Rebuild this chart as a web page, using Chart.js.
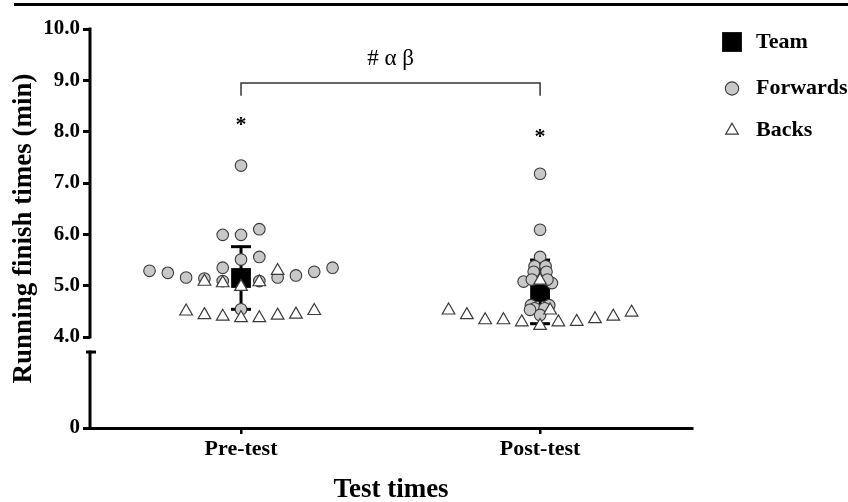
<!DOCTYPE html>
<html>
<head>
<meta charset="utf-8">
<script src="https://cdn.jsdelivr.net/npm/chart.js@4.4.1/dist/chart.umd.min.js"></script>
<style>
  html, body { margin: 0; padding: 0; background: #fff; }
  #wrap { position: relative; width: 848px; height: 502px; }
  #rule { position: absolute; left: 14px; top: 3px; width: 834px; height: 3px; background: #000; }
</style>
</head>
<body>
<div id="wrap">
  <div id="rule"></div>
  <canvas id="chart"></canvas>
</div>
<script>
'use strict';

const GROUPS = ['Pre-test', 'Post-test'];
const Y_TICKS = [0, 4, 5, 6, 7, 8, 9, 10];

// slot = column inside the dot cloud of a group, 0 is the centre
const PRE_FWD_SLOT = [-5, -4, -3, -2, -1, -1, -1, 0, 0, 0, 0, 1, 1, 1, 2, 3, 4, 5];
const PRE_FWD = [5.29, 5.25, 5.16, 5.14, 5.99, 5.35, 5.09, 7.34, 5.99, 5.51, 4.54, 6.10, 5.56, 5.09, 5.16, 5.20, 5.27, 5.35];
const POST_FWD_SLOT = [0, 0, 0, -0.3, 0.3, -0.35, 0.35, -0.9, 0.65, -0.45, 0.4, -0.5, 0.5, 0, -0.3, 0.25, 0, -0.55];
const POST_FWD = [7.18, 6.09, 5.56, 5.38, 5.38, 5.27, 5.27, 5.08, 5.05, 5.12, 5.12, 4.62, 4.62, 4.50, 4.56, 4.56, 4.43, 4.53];

const PRE_BACK_SLOT = [-2, -1, 0, 1, 2, -3, -2, -1, 0, 1, 2, 3, 4];
const PRE_BACK = [5.08, 5.05, 4.98, 5.07, 5.29, 4.50, 4.43, 4.40, 4.37, 4.37, 4.42, 4.44, 4.51];
const POST_BACK_SLOT = [0, 0.55, -5, -4, -3, -2, -1, 0, 1, 2, 3, 4, 5];
const POST_BACK = [5.10, 4.52, 4.52, 4.43, 4.33, 4.33, 4.29, 4.22, 4.29, 4.30, 4.35, 4.40, 4.48];

const TEAM_MEAN = [5.15, 4.88];
const TEAM_SD = [0.61, 0.62];

const SIG_Y = [8.12, 7.89];            // where the * sits above each group
const BRACKET_Y = [8.95, 8.70];         // bar, foot of the legs
const BRACKET_LABEL = '# α β';
const BRACKET_LABEL_Y = 9.42;

const BREAK_AT = 4;      // the y axis is cut below this value
const LOW_SHARE = 0.228; // part of the axis height given to 0..BREAK_AT
const LOW_TOP = 3.34;    // end of the short stub above 0
const SLOT = 0.0612;     // width of one dot column in x units

const SERIF = "'Liberation Serif', 'Times New Roman', serif";
Chart.defaults.font.family = SERIF;
Chart.defaults.color = '#000';

class BrokenScale extends Chart.LinearScale {
  static id = 'broken';
  static defaults = Chart.LinearScale.defaults;
  toDec(v) {
    if (v >= BREAK_AT) return LOW_SHARE + (v - BREAK_AT) / (this.max - BREAK_AT) * (1 - LOW_SHARE);
    return (v - this.min) / (BREAK_AT - this.min) * LOW_SHARE;
  }
  getPixelForValue(v) {
    if (v === null || isNaN(v)) return NaN;
    return this.getPixelForDecimal(this.toDec(v));
  }
  getValueForPixel(p) {
    const d = this.getDecimalForPixel(p);
    if (d >= LOW_SHARE) return BREAK_AT + (d - LOW_SHARE) / (1 - LOW_SHARE) * (this.max - BREAK_AT);
    return this.min + d / LOW_SHARE * (BREAK_AT - this.min);
  }
}
Chart.register(BrokenScale);

function cloud(group, slots, vals) {
  return vals.map((v, i) => ({ x: group + 1 + slots[i] * SLOT, y: v }));
}

function teamPoints() {
  return TEAM_MEAN.map((m, i) => ({ x: i + 1, y: m }));
}

function sdPoints() {
  let pts = [];
  TEAM_MEAN.forEach((m, i) => {
    if (i) pts.push({ x: i + 0.5, y: null });
    pts.push({ x: i + 1, y: m - TEAM_SD[i] }, { x: i + 1, y: m + TEAM_SD[i] });
  });
  return pts;
}

const decor = {
  id: 'decor',
  afterDatasetsDraw(chart) {
    const { ctx, chartArea: a, scales: { x, y } } = chart;
    const line = (x1, y1, x2, y2) => { ctx.beginPath(); ctx.moveTo(x1, y1); ctx.lineTo(x2, y2); ctx.stroke(); };
    ctx.save();

    // broken y axis
    ctx.strokeStyle = '#000';
    ctx.lineWidth = 3;
    ctx.lineCap = 'square';
    line(a.left, y.getPixelForValue(y.max), a.left, y.getPixelForValue(BREAK_AT));
    line(a.left, y.getPixelForValue(0), a.left, y.getPixelForValue(LOW_TOP));
    ctx.lineCap = 'butt';
    line(a.left - 4, y.getPixelForValue(LOW_TOP), a.left + 6, y.getPixelForValue(LOW_TOP));

    // bracket between the groups
    const xl = x.getPixelForValue(1), xr = x.getPixelForValue(2);
    const yb = y.getPixelForValue(BRACKET_Y[0]), yf = y.getPixelForValue(BRACKET_Y[1]);
    ctx.strokeStyle = '#333';
    ctx.lineWidth = 1.5;
    ctx.beginPath();
    ctx.moveTo(xl, yf); ctx.lineTo(xl, yb); ctx.lineTo(xr, yb); ctx.lineTo(xr, yf);
    ctx.stroke();

    ctx.fillStyle = '#000';
    ctx.textAlign = 'center';
    ctx.textBaseline = 'middle';
    ctx.font = '23px ' + SERIF;
    ctx.fillText(BRACKET_LABEL, (xl + xr) / 2, y.getPixelForValue(BRACKET_LABEL_Y));

    ctx.font = 'bold 22px ' + SERIF;
    SIG_Y.forEach((v, i) => ctx.fillText('*', x.getPixelForValue(i + 1), y.getPixelForValue(v)));

    // legend
    const rows = [42, 88.5, 130.5];
    ctx.textAlign = 'left';
    ctx.font = 'bold 22px ' + SERIF;
    chart.data.datasets.slice(0, 3).forEach((ds, i) => {
      ctx.fillStyle = ds.pointBackgroundColor;
      ctx.strokeStyle = ds.pointBorderColor;
      ctx.lineWidth = ds.pointBorderWidth;
      Chart.helpers.drawPoint(ctx, {
        pointStyle: ds.pointStyle,
        radius: ds.pointRadius * (i === 1 ? 1.15 : 1),
        rotation: 0,
        borderWidth: ds.pointBorderWidth
      }, a.right + 40, rows[i]);
      ctx.fillStyle = '#000';
      ctx.fillText(ds.label, a.right + 64, rows[i]);
    });
    ctx.restore();
  }
};

new Chart(document.getElementById('chart'), {
  type: 'scatter',
  data: {
    datasets: [{
      label: 'Team',
      data: teamPoints(),
      pointStyle: 'rect',
      pointRadius: 14,
      pointBackgroundColor: '#000',
      pointBorderColor: '#000',
      pointBorderWidth: 0,
      order: 3
    }, {
      label: 'Forwards',
      data: cloud(0, PRE_FWD_SLOT, PRE_FWD).concat(cloud(1, POST_FWD_SLOT, POST_FWD)),
      pointStyle: 'circle',
      pointRadius: 5.8,
      pointBackgroundColor: '#c8c8c8',
      pointBorderColor: '#3a3a3a',
      pointBorderWidth: 1.1,
      order: 2
    }, {
      label: 'Backs',
      data: cloud(0, PRE_BACK_SLOT, PRE_BACK).concat(cloud(1, POST_BACK_SLOT, POST_BACK)),
      pointStyle: 'triangle',
      pointRadius: 7.3,
      pointBackgroundColor: '#fff',
      pointBorderColor: '#3a3a3a',
      pointBorderWidth: 1.2,
      order: 1
    }, {
      label: 'SD',
      data: sdPoints(),
      showLine: true,
      borderColor: '#000',
      borderWidth: 3,
      pointStyle: 'line',
      pointRadius: 10,
      pointBorderWidth: 3,
      pointBorderColor: '#000',
      order: 4
    }]
  },
  options: {
    responsive: true,
    maintainAspectRatio: false,
    animation: false,
    events: [],
    layout: { padding: { top: 29, right: 156, bottom: 0, left: 0 } },
    plugins: { legend: { display: false }, tooltip: { enabled: false } },
    scales: {
      x: {
        type: 'linear',
        min: 0.495,
        max: 2.508,
        afterBuildTicks: s => { s.ticks = GROUPS.map((g, i) => ({ value: i + 1 })); },
        afterFit: s => { s.height = 74; },
        ticks: {
          padding: 2,
          font: { size: 22, weight: 'bold' },
          callback: v => GROUPS[v - 1]
        },
        grid: { drawOnChartArea: false, tickLength: 6, lineWidth: 2.5, color: '#000' },
        border: { display: true, width: 3, color: '#000' },
        title: {
          display: true,
          text: 'Test times',
          padding: { top: 0, bottom: -2 },
          font: { size: 27, weight: 'bold', lineHeight: 1 }
        }
      },
      y: {
        type: 'broken',
        min: 0,
        max: 10,
        afterBuildTicks: s => { s.ticks = Y_TICKS.map(v => ({ value: v })); },
        afterFit: s => { s.width = 90; },
        ticks: {
          padding: 3,
          font: { size: 21, weight: 'bold' },
          callback: v => v === 0 ? '0' : v.toFixed(1)
        },
        grid: { drawOnChartArea: false, tickLength: 7, lineWidth: 3, color: '#000' },
        border: { display: false },
        title: {
          display: true,
          text: 'Running finish times (min)',
          padding: { top: 10.5, bottom: 0 },
          font: { size: 27, weight: 'bold', lineHeight: 1 }
        }
      }
    }
  },
  plugins: [decor]
});
</script>
</body>
</html>
